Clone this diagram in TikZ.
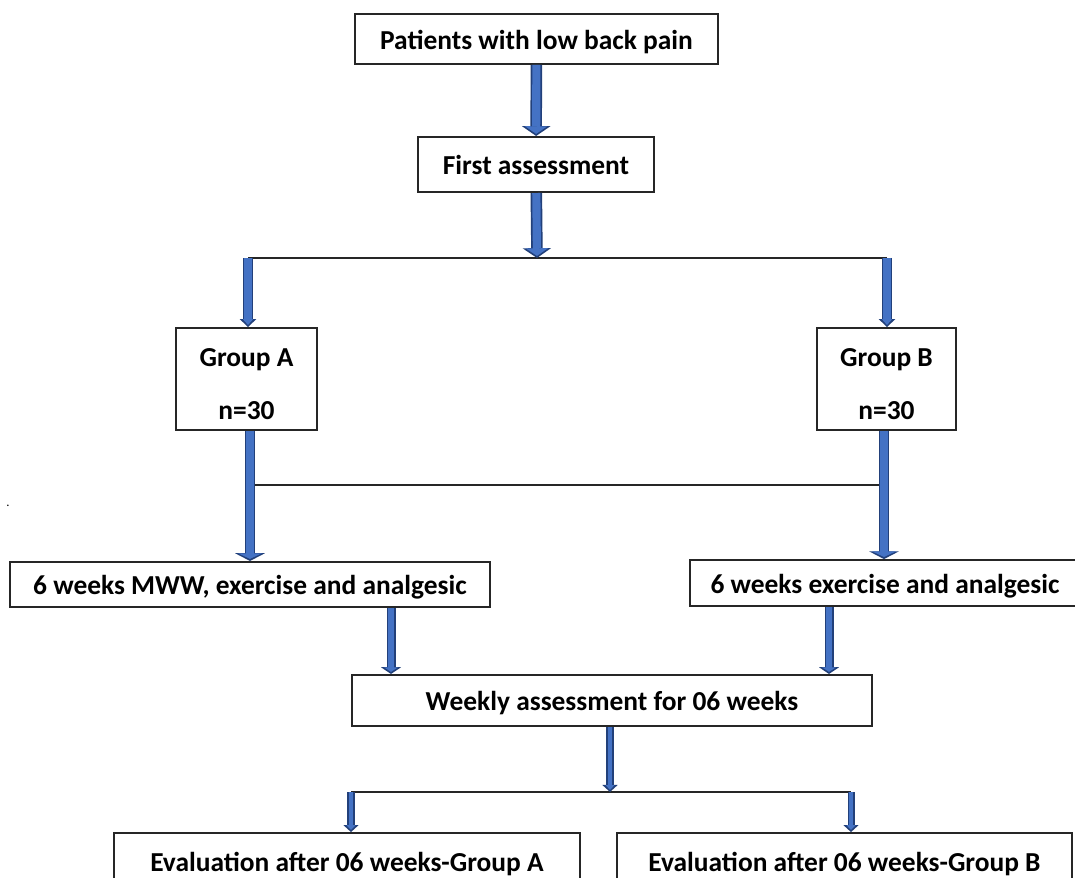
\documentclass[tikz,border=0pt]{standalone}
\usepackage{fontspec}
\setmainfont{Carlito}
\usetikzlibrary{arrows.meta}
\definecolor{arrowdark}{HTML}{22407A}
\definecolor{arrowfill}{HTML}{4472C4}

\begin{document}
\begin{tikzpicture}[x=0.025cm, y=-0.025cm,
    box/.style={draw=black!85, line width=1.3pt, fill=white, align=center, inner sep=0pt, font=\fontsize{19.5}{23}\selectfont\bfseries},
    line/.style={box, text height=18pt, text depth=3.5pt},
    link/.style={draw=black!85, line width=1.3pt},
    blk/.style n args={3}{preaction={draw=arrowdark, line width=#1, shorten >=0pt, -{Triangle[width=#2,length=#3]}},
        draw=arrowfill, line width=#1-2.4pt, shorten >=1.5pt, -{Triangle[width=#2-4.4pt,length=#3-1.6pt]}}]
       \useasboundingbox (0,0) rectangle (1075,878);
       \node[line, minimum width=9.08cm, minimum height=1.25cm] (pat) at (536.5,39) {Patients with low back pain};
       \node[line, minimum width=5.9cm, minimum height=1.38cm] (first) at (536,164.5) {First assessment};
       \node[box, minimum width=3.53cm, minimum height=2.55cm] (grpA) at (246.5,379) {\rule{0pt}{20pt}Group A\\[15pt]n=30};
       \node[box, minimum width=3.48cm, minimum height=2.55cm] (grpB) at (886.5,379) {\rule{0pt}{20pt}Group B\\[15pt]n=30};
       \node[line, minimum width=12cm, minimum height=1.13cm] (mww) at (250,584.5) {6 weeks MWW, exercise and analgesic};
       \node[line, minimum width=9.75cm, minimum height=1.15cm] (exa) at (885,583) {6 weeks exercise and analgesic};
       \node[line, minimum width=13cm, minimum height=1.28cm] (week) at (612,700.5) {Weekly assessment for 06 weeks};
       \node[line, minimum width=11.65cm, minimum height=1.4cm] (evA) at (347,861) {Evaluation after 06 weeks-Group A};
       \node[line, minimum width=11.38cm, minimum height=1.4cm] (evB) at (844.5,861) {Evaluation after 06 weeks-Group B};
       \node[font=\fontsize{9}{9}\selectfont] (dot) at (8,506) {.};

       % split points
       \coordinate (j1) at (537,258);
       \coordinate (jl) at (248,258);
       \coordinate (jr) at (887,258);
       \coordinate (ma) at (250,485);
       \coordinate (mb) at (884,485);
       \coordinate (ta) at (391,0);
       \coordinate (tb) at (829,0);
       \coordinate (j3) at (610,792);
       \coordinate (la) at (351,792);
       \coordinate (lb) at (851,792);

       \draw[link] (jl) -- (jr);
       \draw[link] (ma) -- (mb);
       \draw[link] (la) -- (lb);

       \draw[blk={8.2pt}{20pt}{7pt}] (pat) -- (first);
       \draw[blk={8.2pt}{20pt}{7pt}] (first) -- (j1);
       \draw[blk={7.5pt}{11.5pt}{5.7pt}] (jl) -- (jl |- grpA.north);
       \draw[blk={7.5pt}{11.5pt}{5.7pt}] (jr) -- (jr |- grpB.north);
       \draw[blk={7.6pt}{21pt}{5.5pt}] (ma |- grpA.south) -- (ma |- mww.north);
       \draw[blk={7.6pt}{21pt}{5.5pt}] (mb |- grpB.south) -- (mb |- exa.north);
       \foreach \p/\q in {ta/mww,tb/exa}{ \draw[blk={6.4pt}{14pt}{4.8pt}] (\p |- \q.south) -- (\p |- week.north); }
       \draw[blk={5pt}{10.6pt}{5pt}] (j3 |- week.south) -- (j3);
       \foreach \p/\q in {la/evA,lb/evB}{ \draw[blk={5pt}{10.6pt}{5pt}] (\p) -- (\p |- \q.north); }
\end{tikzpicture}
\end{document}
